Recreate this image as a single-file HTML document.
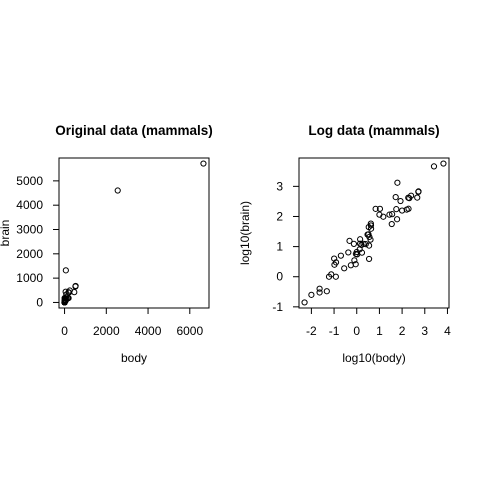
<!DOCTYPE html>
<html><head><meta charset="utf-8"><style>
body{margin:0;background:#fff}
svg text{font-family:"Liberation Sans",Arial,sans-serif;fill:#000}
</style></head><body>
<svg id="c" width="480" height="480" xmlns="http://www.w3.org/2000/svg"></svg>
<script>
const body=[3.385,0.48,1.35,465,36.33,27.66,14.83,1.04,4.19,0.425,0.101,0.92,1,0.005,0.06,3.5,2,1.7,2547,0.023,187.1,521,0.785,10,3.3,0.2,1.41,529,207,85,0.75,62,6654,3.5,6.8,35,4.05,0.12,0.023,0.01,1.4,250,2.5,55.5,100,52.16,10.55,0.55,60,3.6,4.288,0.28,0.075,0.122,0.048,192,3,160,0.9,1.62,0.104,4.235];
const brain=[44.5,15.5,8.1,423,119.5,115,98.2,5.5,58,6.4,4,5.7,6.6,0.14,1,10.8,12.3,6.3,4603,0.3,419,655,3.5,115,25.6,5,17.5,680,406,325,12.3,1320,5712,3.9,179,56,17,1,0.4,0.25,12.5,490,12.1,175,157,440,179.5,2.4,81,21,39.2,1.9,1.2,3,0.33,180,25,169,2.6,11.4,2.5,50.4];
const leftXTicks=[0,2000,4000,6000];
const leftYTicks=[0,1000,2000,3000,4000,5000];
const rightXTicks=[-2,-1,0,1,2,3,4];
const rightYTicks=[-1,0,1,2,3];
const NS="http://www.w3.org/2000/svg";
const svg=document.getElementById('c');
function mk(t,a,p){const e=document.createElementNS(NS,t);for(const k in a)e.setAttribute(k,a[k]);(p||svg).appendChild(e);return e;}
function panel(px,xs,ys,xt,yt,title,xl,yl,prefix){
  const L=px,R=px+150,T=158,B=308;
  const g=mk('g',{});
  
  
  const ext=a=>{const mn=Math.min(...a),mx=Math.max(...a),p=(mx-mn)*0.04;return[mn-p,mx+p];};
  const [x0,x1]=ext(xs),[y0,y1]=ext(ys);
  const X=v=>L+(v-x0)/(x1-x0)*150, Y=v=>B-(v-y0)/(y1-y0)*150;
  const box=mk('rect',{x:L,y:T,width:150,height:150,fill:'none',stroke:'#000','stroke-width':1},g);
  
  
  const tt=mk('text',{x:L+75,y:135,'text-anchor':'middle','font-size':'13.5','font-weight':'bold'},g);tt.textContent=title;
  
  
  const xa=mk('g',{},g);
  
  
  xt.forEach(v=>{mk('line',{x1:X(v),x2:X(v),y1:B,y2:B+6,stroke:'#000'},xa);
    const t=mk('text',{x:X(v),y:B+27,'text-anchor':'middle','font-size':'12'},xa);t.textContent=v;});
  const ya=mk('g',{},g);
  
  
  yt.forEach(v=>{mk('line',{x1:L-6,x2:L,y1:Y(v),y2:Y(v),stroke:'#000'},ya);
    const t=mk('text',{x:L-16,y:Y(v)+4,'text-anchor':'end','font-size':'12'},ya);t.textContent=v;});
  const xlab=mk('text',{x:L+75,y:362,'text-anchor':'middle','font-size':'12'},g);xlab.textContent=xl;
  
  
  const yx=px-50;
  const ylab=mk('text',{x:yx,y:233,'text-anchor':'middle','font-size':'12',transform:`rotate(-90 ${yx} 233)`},g);ylab.textContent=yl;
  
  
  xs.forEach((v,i)=>{const c=mk('circle',{cx:X(v),cy:Y(ys[i]),r:2.6,fill:'none',stroke:'#000','stroke-width':1},g);
    
    });
}
panel(59,body,brain,leftXTicks,leftYTicks,'Original data (mammals)','body','brain','original');
panel(299,body.map(Math.log10),brain.map(Math.log10),rightXTicks,rightYTicks,'Log data (mammals)','log10(body)','log10(brain)','log');
</script>
</body></html>
